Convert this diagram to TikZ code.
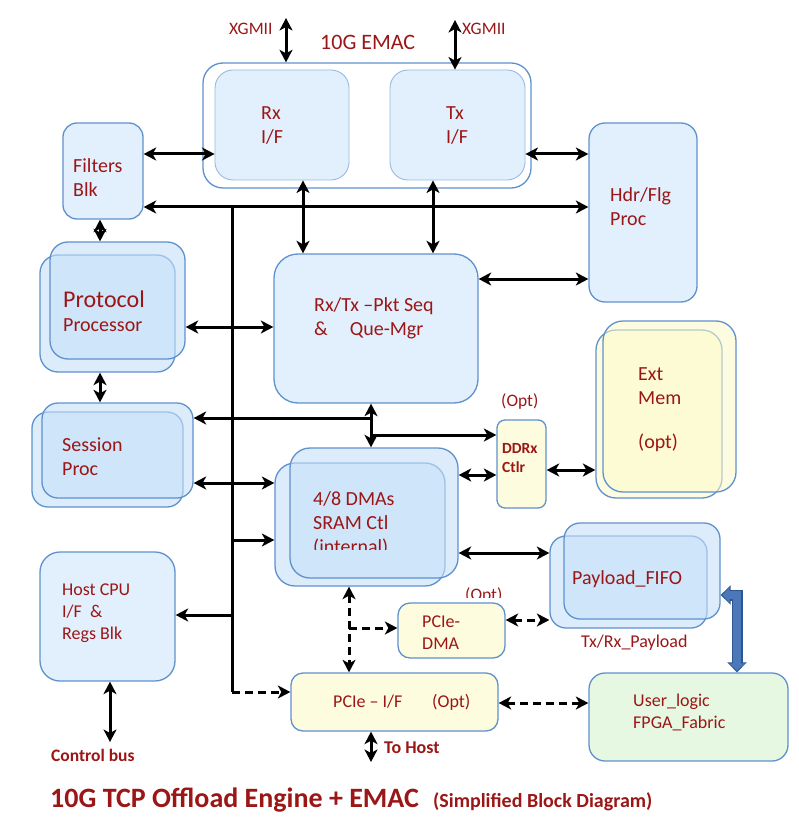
\documentclass[tikz,border=0pt]{standalone}
\usepackage{fontspec}
\setmainfont{Carlito}
\usetikzlibrary{arrows.meta,fit}
\definecolor{tred}{RGB}{155,22,22}
\definecolor{bline}{RGB}{95,145,205}
\definecolor{bline2}{RGB}{150,185,225}
\definecolor{bfill}{RGB}{226,240,253}
\definecolor{bfill2}{RGB}{198,224,248}
\definecolor{yfill}{RGB}{254,252,222}
\definecolor{yfill2}{RGB}{252,250,200}
\definecolor{gfill}{RGB}{230,248,226}
\definecolor{thickblue}{RGB}{75,120,185}
\definecolor{thickedge}{RGB}{45,85,145}
\tikzset{
  blk/.style={draw=bline, line width=1.3pt, fill=bfill, rounded corners=#1, inner sep=0pt},
  inblk/.style={draw=bline2, line width=0.9pt, fill=bfill, rounded corners=#1, inner sep=0pt},
  dbl/.style={draw=bline, line width=1.3pt, fill=bfill2, fill opacity=0.6, rounded corners=#1, inner sep=0pt},
  ydbl/.style={draw=bline, line width=1.3pt, fill=yfill2, fill opacity=0.55, rounded corners=#1, inner sep=0pt},
  yblk/.style={draw=bline, line width=1.3pt, fill=yfill, rounded corners=#1, inner sep=0pt},
  gblk/.style={draw=bline, line width=1.3pt, fill=gfill, rounded corners=#1, inner sep=0pt},
  lbl/.style={text=tred, anchor=west, align=left, inner sep=0pt, font=\fontsize{20}{24}\selectfont},
  tip/.tip={Stealth[length=12.5pt,width=13pt,inset=3.5pt]},
  conn/.style={line width=3pt, black},
  bi/.style={conn, tip-tip},
  uni/.style={conn, -tip},
  dsh/.style={dash pattern=on 8pt off 5pt},
}
\begin{document}
\begin{tikzpicture}[x=1pt,y=-1pt]
\useasboundingbox (0,0) rectangle (798,834);

% ---------- boxes ----------
\node[blk=20pt, fill=white, fit={(203,63) (531,188)}] (emac) {};
\node[inblk=18pt, fit={(215,70) (349,180)}] (rx) {};
\node[inblk=18pt, fit={(390,70) (525,180)}] (tx) {};
\node[blk=14pt, fit={(63,123) (143,219)}] (filt) {};
\node[blk=16pt, fit={(589,123) (697,302)}] (hdr) {};
\node[blk=24pt, fit={(274,254) (478,403)}] (pkt) {};
\node[dbl=18pt, fit={(40,255) (175,372)}] (protoA) {};
\node[dbl=18pt, fit={(50,242) (185,359)}] (protoB) {};
\node[dbl=16pt, fit={(32,412) (183,507)}] (sessA) {};
\node[dbl=16pt, fit={(42,403) (193,498)}] (sessB) {};
\node[ydbl=20pt, fit={(596,330) (722,498)}] (extA) {};
\node[ydbl=20pt, fit={(603,321) (736,492)}] (extB) {};
\node[yblk=8pt, fit={(497,420) (546,508)}] (ddr) {};
\node[dbl=20pt, fit={(275,463) (445,586)}] (dmaA) {};
\node[dbl=20pt, fit={(290,448) (458,578)}] (dmaB) {};
\node[blk=20pt, fit={(40,552) (175,681)}] (host) {};
\node[dbl=16pt, fit={(550,536) (707,628)}] (pfA) {};
\node[dbl=16pt, fit={(564,523) (720,619)}] (pfB) {};
\node[yblk=12pt, fit={(398,603) (505,658)}] (pdma) {};
\node[yblk=12pt, fit={(291,673) (498,731)}] (pcie) {};
\node[gblk=16pt, fit={(589,673) (788,761)}] (user) {};

% ---------- texts ----------
\node[lbl] (rxT) at (261,126) {Rx\\I/F};
\node[lbl] (txT) at (446,126) {Tx\\I/F};
\node[lbl, font=\fontsize{22}{26}\selectfont] (emacT) at (320,42) {10G EMAC};
\node[lbl, font=\fontsize{17.5}{20}\selectfont] (xg1T) at (229,29) {XGMII};
\node[lbl, font=\fontsize{17.5}{20}\selectfont] (xg2T) at (462,29) {XGMII};
\node[lbl] (filtT) at (73,178) {Filters\\Blk};
\node[lbl] (hdrT) at (610,207) {Hdr/Flg\\Proc};
\node[lbl] (pktT) at (314,318) {Rx/Tx –Pkt Seq\\\&\hspace{22pt}Que-Mgr};
\node[lbl] (protoT) at (63,311) {{\fontsize{24}{24}\selectfont Protocol}\\Processor};
\node[lbl] (sessT) at (62,457) {Session\\Proc};
\node[lbl] (extT) at (638,410) {Ext\\Mem\\[20pt](opt)};
\node[lbl, font=\bfseries\fontsize{15.5}{19}\selectfont] (ddrT) at (502,458) {DDRx\\Ctlr};
\node[lbl, font=\fontsize{17.5}{20}\selectfont] (ddrO) at (501,402) {(Opt)};
\begin{scope}
  \clip (290,440) rectangle (460,549);
  \node[lbl] (dmaT) at (313,524) {4/8 DMAs\\SRAM Ctl\\(internal)};
\end{scope}
\begin{scope}
  \clip (440,580) rectangle (520,597);
  \node[lbl, font=\fontsize{17.5}{20}\selectfont] (pdmaO) at (465,596) {(Opt)};
\end{scope}
\node[lbl, font=\fontsize{18}{22}\selectfont] (hostT) at (62,613) {Host CPU\\I/F\ \ \&\\Regs Blk};
\node[lbl, font=\bfseries\fontsize{17.5}{20}\selectfont] (cbT) at (51,755) {Control bus};
\node[lbl, font=\fontsize{18}{22}\selectfont] (pcieT) at (333,702) {PCIe – I/F};
\node[lbl, font=\fontsize{18}{22}\selectfont] (pcieO) at (432,702) {(Opt)};
\node[lbl, font=\fontsize{18}{22}\selectfont] (pdmaT) at (422,633) {PCIe-\\DMA};
\node[lbl, font=\bfseries\fontsize{18}{22}\selectfont] (thT) at (384,748) {To Host};
\node[lbl] (pfT) at (572,579) {Payload\_FIFO};
\node[lbl, font=\fontsize{18}{22}\selectfont] (pfL) at (581,643) {Tx/Rx\_Payload};
\node[lbl, font=\fontsize{18}{22}\selectfont] (userT) at (633,712) {User\_logic\\FPGA\_Fabric};
\node[lbl, font=\bfseries\fontsize{28}{32}\selectfont] (title) at (50,800) {10G TCP Offload Engine + EMAC};
\node[lbl, font=\bfseries\fontsize{20}{23}\selectfont] (subt) at (433,802) {(Simplified Block Diagram)};

% ---------- free coordinates ----------
\coordinate (xg1) at (286,18);
\coordinate (xg2) at (455,20);
\coordinate (bt) at (232,207);
\coordinate (bb) at (232,692);
\coordinate (j1) at (371,418);
\coordinate (j2) at (371,435);
\coordinate (j3) at (232,540);
\coordinate (j4) at (232,615);
\coordinate (j5) at (349,628);
\coordinate (th) at (371,762);
\coordinate (cb) at (110,742);

% ---------- connectors ----------
\draw[bi] (xg1) -- (xg1 |- emac.north);
\draw[bi] (xg2) -- (xg2 |- tx.north);
\draw[bi] (filt.east |- 0,154) -- (rx.west |- 0,154);
\draw[bi] (tx.east |- 0,154) -- (hdr.west |- 0,154);
\draw[bi] (filt.east |- bt) -- (hdr.west |- bt);
\draw[conn] (bt) -- (bb);
\draw[uni, dsh] (bb) -- (pcie.west |- bb);
\draw[bi] (rx.south -| 303,0) -- (pkt.north -| 303,0);
\draw[bi] (tx.south -| 433,0) -- (pkt.north -| 433,0);
\draw[bi] (pkt.east |- 0,279) -- (hdr.west |- 0,279);
\draw[bi] (protoB.east |- 0,327) -- (pkt.west |- 0,327);
\draw[bi] (filt.south -| 100,0) -- (protoB.north -| 100,0);
\draw[bi] (protoA.south -| 100,0) -- (sessB.north -| 100,0);
\draw[bi] (pkt.south -| j1) -- (dmaB.north -| j1);
\draw[uni] (j1) -- (sessB.east |- j1);
\draw[uni] (j2) -- (ddr.west |- j2);
\draw[bi] (sessB.east |- 0,483) -- (dmaA.west |- 0,483);
\draw[uni] (j3) -- (dmaA.west |- j3);
\draw[uni] (j4) -- (host.east |- j4);
\draw[bi] (dmaB.east |- 0,475) -- (ddr.west |- 0,475);
\draw[bi] (ddr.east |- 0,470) -- (extA.west |- 0,470);
\draw[bi] (dmaB.east |- 0,553) -- (pfA.west |- 0,553);
\draw[bi, dsh] (dmaA.south -| j5) -- (pcie.north -| j5);
\draw[uni, dsh] (j5) -- (pdma.west |- j5);
\draw[bi, dsh] (pdma.east |- 0,620) -- (pfA.west |- 0,620);
\draw[bi, dsh] (pcie.east |- 0,703) -- (user.west |- 0,703);
\draw[bi] (pcie.south -| th) -- (th);
\draw[bi] (host.south -| cb) -- (cb);

% thick blue elbow arrow
\draw[line width=11pt, thickedge, line join=miter,
      {Triangle[length=10pt,width=19pt]}-{Triangle[length=10pt,width=19pt]}]
      (pfB.east |- 0,595) -| (user.north -| 737,0);
\draw[line width=8pt, thickblue, line join=miter, shorten <=1.5pt, shorten >=1.5pt,
      {Triangle[length=7.5pt,width=15pt]}-{Triangle[length=7.5pt,width=15pt]}]
      (pfB.east |- 0,595) -| (user.north -| 737,0);
\end{tikzpicture}
\end{document}
